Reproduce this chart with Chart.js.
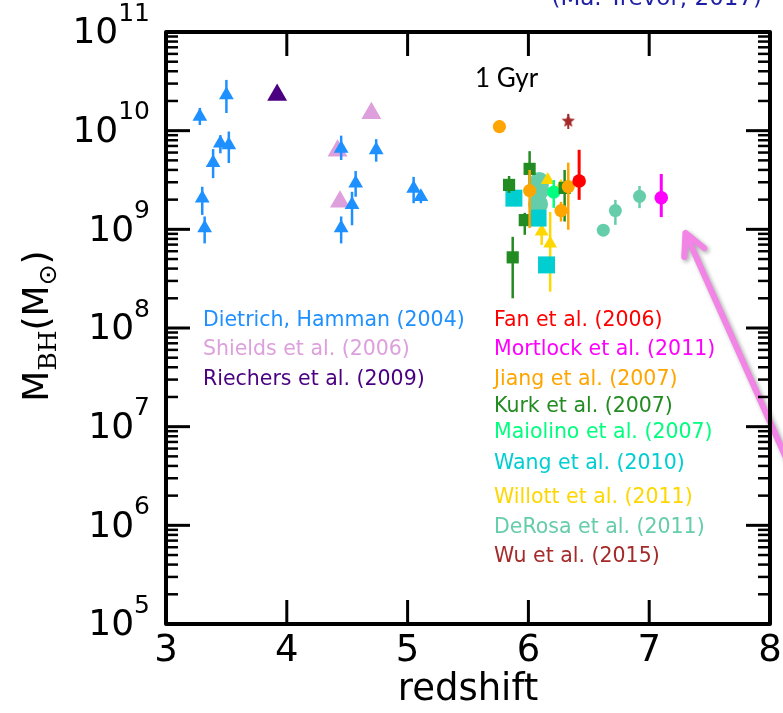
<!DOCTYPE html>
<html>
<head>
<meta charset="utf-8">
<script src="https://cdn.jsdelivr.net/npm/chart.js@4.4.1/dist/chart.umd.min.js"></script>
<style>
  html, body { margin: 0; padding: 0; background: #fff; }
  canvas { display: block; }
</style>
</head>
<body>
<canvas id="grafico" width="783" height="713"></canvas>
<script>
// eixos
const xTicks = [3, 4, 5, 6, 7, 8];
const yExpoentes = [5, 6, 7, 8, 9, 10, 11];

// Dietrich & Hamann (2004)
const dietrichZ  = [3.28, 3.50, 3.45, 3.52, 3.39, 3.30, 3.32, 4.45, 4.74, 4.57, 4.54, 4.45, 5.05, 5.11];
const dietrichM  = [1.39e10, 2.3e10, 7.45e9, 7.16e9, 4.74e9, 2.07e9, 1.03e9, 6.6e9, 6.37e9, 2.93e9, 1.77e9, 1.03e9, 2.6e9, 2.14e9];
const dietrichLo = [1.14e10, 1.51e10, 5.9e9, 4.7e9, 3.3e9, 1.4e9, 7.2e8, 5.05e9, 4.85e9, 2.14e9, 1.1e9, 7.2e8, 1.84e9, 1.84e9];
const dietrichHi = [1.7e10, 3.27e10, 9.0e9, 9.8e9, 6.5e9, 2.7e9, 1.35e9, 8.9e9, 8.2e9, 3.9e9, 2.4e9, 1.35e9, 3.4e9, 2.4e9];

// Shields et al. (2006)
const shieldsZ = [4.70, 4.42, 4.44];
const shieldsM = [1.5e10, 6.27e9, 1.9e9];

// Riechers et al. (2009)
const riechersZ = [3.92];
const riechersM = [2.3e10];

// Fan et al. (2006)
const fanZ = [6.42];
const fanM = [3.09e9];
const fanLo = [1.99e9];
const fanHi = [6.4e9];

// Mortlock et al. (2011)
const mortlockZ = [7.10];
const mortlockM = [2.09e9];
const mortlockLo = [1.33e9];
const mortlockHi = [3.64e9];

// Jiang et al. (2007)
const jiangZ  = [5.76, 6.01, 6.33, 6.27];
const jiangM  = [1.1e10, 2.47e9, 2.71e9, 1.55e9];
const jiangLo = [9.5e9, 1.03e9, 9.9e8, 1.2e9];
const jiangHi = [1.28e10, 4.0e9, 4.74e9, 1.9e9];

// Kurk et al. (2007)
const kurkZ  = [5.84, 6.01, 5.97, 5.87, 6.30];
const kurkM  = [2.82e9, 4.1e9, 1.24e9, 5.2e8, 2.63e9];
const kurkLo = [2.34e9, 2.5e9, 8.8e8, 2.0e8, 1.2e9];
const kurkHi = [3.47e9, 6.2e9, 1.47e9, 8.4e8, 4.0e9];

// Maiolino et al. (2007)
const maiolinoZ = [6.21];
const maiolinoM = [2.38e9];
const maiolinoLo = [1.65e9];
const maiolinoHi = [3.16e9];

// Wang et al. (2010)
const wangZ = [5.88, 6.08, 6.15];
const wangM = [2.07e9, 1.3e9, 4.36e8];

// Willott et al. (2011)
const willottZ  = [6.16, 6.27, 6.11, 6.18];
const willottM  = [3.16e9, 2.7e9, 9.5e8, 7.2e8];
const willottLo = [null, null, 6.95e8, 2.34e8];
const willottHi = [null, null, 1.3e9, 1.5e9];

// DeRosa et al. (2011)
const derosaZ  = [6.62, 6.72, 6.92];
const derosaM  = [9.8e8, 1.55e9, 2.16e9];
const derosaLo = [null, 1.11e9, 1.64e9];
const derosaHi = [null, 1.99e9, 2.75e9];
const derosaGrandesZ = [6.09, 6.09, 6.08];
const derosaGrandesM = [3.02e9, 2.5e9, 1.8e9];

// Wu et al. (2015)
const wuZ = [6.33];
const wuM = [1.25e10];
const wuLo = [1.04e10];
const wuHi = [1.48e10];

// anotações
const setaPonta = { x: 7.30, y: 9.2e8 };
const setaCauda = { x: 8.32, y: 1.48e6 };
const gyrPos = { x: 5.82, y: 3.4e10 };

const pontos = (zs, ms) => zs.map((z, i) => ({ x: z, y: ms[i] }));

function estrela(cor, r) {
    const c = document.createElement('canvas');
    c.width = c.height = 2 * r + 2;
    const g = c.getContext('2d');
    g.fillStyle = cor;
    g.beginPath();
    for (let i = 0; i < 10; i++) {
        const ang = -Math.PI / 2 + i * Math.PI / 5;
        const rr = i % 2 ? r * 0.45 : r;
        g.lineTo(r + 1 + rr * Math.cos(ang), r + 1 + rr * Math.sin(ang));
    }
    g.closePath();
    g.fill();
    return c;
}

function serie(label, cor, zs, ms, estilo, raio, lo, hi, larg) {
    return {
        label: label,
        data: pontos(zs, ms),
        backgroundColor: cor,
        borderColor: cor,
        borderWidth: 0,
        pointStyle: estilo,
        pointRadius: raio,
        errLo: lo || null,
        errHi: hi || null,
        errLargura: larg || 2.5
    };
}

const datasets = [
    serie('Dietrich, Hamman (2004)', '#1e90ff', dietrichZ, dietrichM, 'triangle', 8.5, dietrichLo, dietrichHi, 2.5),
    serie('Shields et al. (2006)', '#dda0dd', shieldsZ, shieldsM, 'triangle', 11.5),
    serie('Riechers et al. (2009)', '#4b0082', riechersZ, riechersM, 'triangle', 11.5),
    serie('Fan et al. (2006)', '#ff0000', fanZ, fanM, 'circle', 6.8, fanLo, fanHi, 3),
    serie('Mortlock et al. (2011)', '#ff00ff', mortlockZ, mortlockM, 'circle', 6.8, mortlockLo, mortlockHi, 3),
    serie('Jiang et al. (2007)', '#ffa500', jiangZ, jiangM, 'circle', 6.6, jiangLo, jiangHi, 2.5),
    serie('Kurk et al. (2007)', '#228b22', kurkZ, kurkM, 'rect', 8.6, kurkLo, kurkHi, 2.5),
    serie('Maiolino et al. (2007)', '#00ff7f', maiolinoZ, maiolinoM, 'circle', 6.6, maiolinoLo, maiolinoHi, 2.5),
    serie('Wang et al. (2010)', '#00ced1', wangZ, wangM, 'rect', 12),
    serie('Willott et al. (2011)', '#ffd700', willottZ, willottM, 'triangle', 8, willottLo, willottHi, 2.5),
    serie('DeRosa et al. (2011)', '#66cdaa', derosaZ, derosaM, 'circle', 6.5, derosaLo, derosaHi, 2.5),
    serie('DeRosa et al. (2011)', '#66cdaa', derosaGrandesZ, derosaGrandesM, 'circle', 10),
    serie('Wu et al. (2015)', '#a52a2a', wuZ, wuM, estrela('#a52a2a', 7), 7, wuLo, wuHi, 2)
];

// legenda em duas colunas (índices dos datasets)
const legendaEsq = [0, 1, 2];
const legendaDir = [3, 4, 5, 6, 7, 8, 9, 10, 12];
const linhasEsq = [321, 350, 380];
const linhasDir = [321, 350, 380, 407, 433, 464, 498, 528, 557];

// barras de erro desenhadas logo após cada série
const barrasErro = {
    id: 'barrasErro',
    afterDatasetDraw(chart, args) {
        const ds = chart.data.datasets[args.index];
        if (!ds.errLo) return;
        const { ctx, scales: { x, y } } = chart;
        ctx.save();
        ctx.strokeStyle = ds.borderColor;
        ctx.lineWidth = ds.errLargura;
        ds.data.forEach((p, i) => {
            if (ds.errLo[i] == null) return;
            const px = x.getPixelForValue(p.x);
            ctx.beginPath();
            ctx.moveTo(px, y.getPixelForValue(ds.errLo[i]));
            ctx.lineTo(px, y.getPixelForValue(ds.errHi[i]));
            ctx.stroke();
        });
        ctx.restore();
    }
};

const moldura = {
    id: 'moldura',
    afterDraw(chart) {
        const { ctx, chartArea: a, scales: { x, y } } = chart;
        ctx.save();

        // seta rosa
        const p1 = { x: x.getPixelForValue(setaCauda.x), y: y.getPixelForValue(setaCauda.y) };
        const p2 = { x: x.getPixelForValue(setaPonta.x), y: y.getPixelForValue(setaPonta.y) };
        const ang = Math.atan2(p1.y - p2.y, p1.x - p2.x);
        ctx.shadowColor = 'rgba(0,0,0,0.35)';
        ctx.shadowBlur = 4;
        ctx.shadowOffsetX = 2;
        ctx.shadowOffsetY = 2;
        ctx.strokeStyle = '#f284e6';
        ctx.lineWidth = 6;
        ctx.lineCap = 'round';
        ctx.lineJoin = 'round';
        ctx.beginPath();
        ctx.moveTo(p1.x, p1.y);
        ctx.lineTo(p2.x, p2.y);
        ctx.moveTo(p2.x + 24 * Math.cos(ang + 0.47), p2.y + 24 * Math.sin(ang + 0.47));
        ctx.lineTo(p2.x, p2.y);
        ctx.lineTo(p2.x + 24 * Math.cos(ang - 0.47), p2.y + 24 * Math.sin(ang - 0.47));
        ctx.stroke();
        ctx.shadowColor = 'transparent';
        ctx.lineCap = 'butt';

        // moldura e marcas
        ctx.strokeStyle = '#000';
        ctx.lineWidth = 4;
        ctx.strokeRect(a.left, a.top, a.right - a.left, a.bottom - a.top);
        ctx.lineWidth = 3;
        const seg = (x1, y1, x2, y2) => { ctx.beginPath(); ctx.moveTo(x1, y1); ctx.lineTo(x2, y2); ctx.stroke(); };
        xTicks.forEach(v => {
            const px = x.getPixelForValue(v);
            seg(px, a.bottom, px, a.bottom - 24);
            seg(px, a.top, px, a.top + 24);
        });
        yExpoentes.forEach(e => {
            for (let m = 1; m < 10; m++) {
                const v = m * Math.pow(10, e);
                if (v > 1e11 * 1.0001) break;
                const py = y.getPixelForValue(v);
                const len = m === 1 ? 24 : 12;
                ctx.lineWidth = m === 1 ? 3 : 2.5;
                seg(a.left, py, a.left + len, py);
                seg(a.right, py, a.right - len, py);
            }
        });

        // rótulos
        ctx.fillStyle = '#000';
        ctx.textBaseline = 'middle';
        ctx.textAlign = 'center';
        ctx.font = '37px "DejaVu Sans"';
        xTicks.forEach(v => ctx.fillText(String(v), x.getPixelForValue(v), 651));

        yExpoentes.forEach(e => {
            const py = y.getPixelForValue(Math.pow(10, e));
            ctx.font = '25px "DejaVu Sans"';
            const we = ctx.measureText(String(e)).width;
            ctx.textAlign = 'right';
            ctx.fillText(String(e), 150, py - 18);
            ctx.font = '36px "DejaVu Sans"';
            ctx.fillText('10', 150 - we, py + 2);
        });

        // título do eixo y: M_BH(M_⊙)
        ctx.translate(48, 326);
        ctx.rotate(-Math.PI / 2);
        ctx.textBaseline = 'alphabetic';
        ctx.textAlign = 'left';
        const partes = [
            ['M', '36px "DejaVu Sans"', 0],
            ['BH', '25px "DejaVu Serif"', 8],
            ['(M', '36px "DejaVu Sans"', 0],
            ['\u2299', '25px "DejaVu Sans"', 8],
            [')', '36px "DejaVu Sans"', 0]
        ];
        let total = 0;
        partes.forEach(p => { ctx.font = p[1]; total += ctx.measureText(p[0]).width; });
        let cx = -total / 2;
        partes.forEach(p => {
            ctx.font = p[1];
            ctx.fillText(p[0], cx, p[2]);
            cx += ctx.measureText(p[0]).width;
        });
        ctx.setTransform(1, 0, 0, 1, 0, 0);

        // legenda
        ctx.textBaseline = 'middle';
        ctx.textAlign = 'left';
        ctx.font = '20.5px "DejaVu Sans"';
        legendaEsq.forEach((idx, i) => {
            const ds = chart.data.datasets[idx];
            ctx.fillStyle = ds.borderColor;
            ctx.fillText(ds.label, 203, linhasEsq[i]);
        });
        legendaDir.forEach((idx, i) => {
            const ds = chart.data.datasets[idx];
            ctx.fillStyle = ds.borderColor;
            ctx.fillText(ds.label, 494, linhasDir[i]);
        });

        // 1 Gyr
        ctx.fillStyle = '#000';
        ctx.textAlign = 'center';
        ctx.font = '26px Lato';
        ctx.fillText('1 Gyr', x.getPixelForValue(gyrPos.x), y.getPixelForValue(gyrPos.y));

        // referência no topo
        ctx.fillStyle = '#1f1fa5';
        ctx.textAlign = 'right';
        ctx.textBaseline = 'alphabetic';
        ctx.font = '23px "DejaVu Sans"';
        ctx.fillText('(Ma. Trevor, 2017)', 762, 5);

        ctx.restore();
    }
};

Chart.defaults.font.family = '"DejaVu Sans"';

new Chart(document.getElementById('grafico').getContext('2d'), {
    type: 'scatter',
    data: { datasets: datasets },
    options: {
        responsive: false,
        animation: false,
        events: [],
        layout: { padding: { top: 32, right: 13, left: 0, bottom: 0 } },
        plugins: { legend: { display: false }, tooltip: { enabled: false } },
        scales: {
            x: {
                type: 'linear',
                min: 3,
                max: 8,
                ticks: { display: false, stepSize: 1 },
                grid: { display: false },
                border: { display: false },
                title: { display: true, text: 'redshift', color: '#000', font: { size: 37 }, padding: 0 },
                afterFit: s => { s.height = 89; }
            },
            y: {
                type: 'logarithmic',
                min: 1e5,
                max: 1e11,
                ticks: { display: false },
                grid: { display: false },
                border: { display: false },
                afterFit: s => { s.width = 166; }
            }
        }
    },
    plugins: [barrasErro, moldura]
});
</script>
</body>
</html>
